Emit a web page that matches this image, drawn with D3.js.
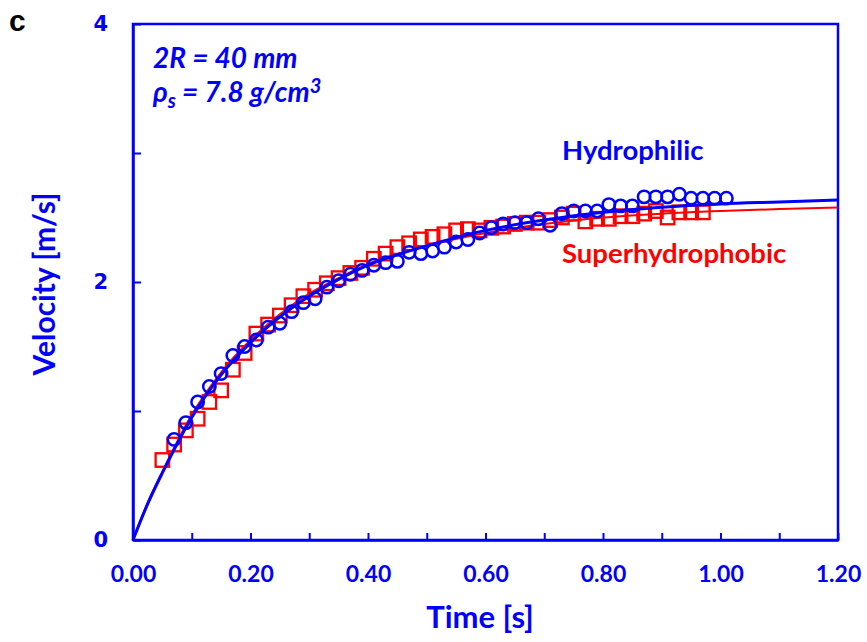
<!DOCTYPE html>
<html>
<head>
<meta charset="utf-8">
<script src="https://cdn.jsdelivr.net/npm/d3@7"></script>
<style>
html,body{margin:0;padding:0;background:#fff;}
svg{display:block;}
</style>
</head>
<body>
<svg id="chart" width="867" height="642"></svg>
<script>
// ---- data ----
const hydroT = [0.07,0.09,0.11,0.13,0.15,0.17,0.19,0.21,0.23,0.25,0.27,0.29,0.31,0.33,0.35,0.37,0.39,0.41,0.43,0.45,0.47,0.49,0.51,0.53,0.55,0.57,0.59,0.61,0.63,0.65,0.67,0.69,0.71,0.73,0.75,0.77,0.79,0.81,0.83,0.85,0.87,0.89,0.91,0.93,0.95,0.97,0.99,1.01];
const hydroV = [0.78,0.91,1.07,1.19,1.29,1.43,1.50,1.55,1.65,1.68,1.77,1.84,1.87,1.96,2.01,2.06,2.09,2.13,2.15,2.16,2.23,2.22,2.24,2.27,2.31,2.33,2.38,2.42,2.45,2.46,2.46,2.49,2.44,2.53,2.55,2.55,2.55,2.60,2.59,2.59,2.66,2.66,2.66,2.68,2.65,2.65,2.65,2.65];

const superT = [0.05,0.07,0.09,0.11,0.13,0.15,0.17,0.19,0.21,0.23,0.25,0.27,0.29,0.31,0.33,0.35,0.37,0.39,0.41,0.43,0.45,0.47,0.49,0.51,0.53,0.55,0.57,0.59,0.61,0.63,0.65,0.67,0.69,0.71,0.73,0.75,0.77,0.79,0.81,0.83,0.85,0.87,0.89,0.91,0.93,0.95,0.97];
const superV = [0.62,0.74,0.85,0.94,1.07,1.16,1.32,1.45,1.60,1.67,1.74,1.82,1.89,1.94,1.99,2.03,2.07,2.11,2.18,2.22,2.27,2.30,2.33,2.35,2.37,2.40,2.41,2.40,2.42,2.43,2.45,2.46,2.46,2.48,2.50,2.53,2.47,2.49,2.49,2.51,2.51,2.53,2.55,2.50,2.54,2.54,2.54];

// fitted curves
const fitT      = [0,0.025,0.05,0.1,0.15,0.2,0.25,0.3,0.35,0.4,0.5,0.6,0.7,0.8,0.9,1.0,1.1,1.2];
const fitHydroV = [0,0.28,0.52,0.95,1.28,1.53,1.73,1.89,2.02,2.13,2.28,2.40,2.48,2.54,2.58,2.605,2.62,2.635];
const fitSuperV = [0,0.29,0.53,0.97,1.30,1.55,1.75,1.91,2.03,2.14,2.28,2.38,2.45,2.50,2.53,2.55,2.565,2.578];

const xTicks = [0,0.1,0.2,0.3,0.4,0.5,0.6,0.7,0.8,0.9,1.0,1.1,1.2];
const yTicks = [0,1,2,3,4];
const xLabelTicks = [0,0.2,0.4,0.6,0.8,1.0,1.2];
const yLabelTicks = [0,2,4];

const BLUE = "#0000ff", RED = "#ff0000";
const TEXTFONT = "Lato, 'Open Sans', sans-serif";

// ---- chart ----
const svg = d3.select("#chart");
const x = d3.scaleLinear().domain([0,1.2]).range([133,838]);
const y = d3.scaleLinear().domain([0,4]).range([540,24]);

// frame
svg.append("rect")
  .attr("x", x(0)).attr("y", y(4))
  .attr("width", x(1.2)-x(0)).attr("height", y(0)-y(4))
  .attr("fill","none").attr("stroke",BLUE).attr("stroke-width",2.5);

// x axis
const gx = svg.append("g").attr("transform",`translate(0,${y(0)})`)
  .call(d3.axisBottom(x).tickValues(xTicks).tickSizeInner(-7).tickSizeOuter(0)
        .tickPadding(26)
        .tickFormat(d => xLabelTicks.some(v=>Math.abs(v-d)<1e-9) ? d3.format(".2f")(d) : ""));
gx.select(".domain").attr("stroke",BLUE).attr("stroke-width",2.5);
gx.selectAll(".tick line").attr("stroke",BLUE).attr("stroke-width",2);
gx.selectAll(".tick text").attr("fill",BLUE)
  .style("font-family",TEXTFONT).style("font-weight","bold").style("font-size","23px");

// y axis
const gy = svg.append("g").attr("transform",`translate(${x(0)},0)`)
  .call(d3.axisLeft(y).tickValues(yTicks).tickSizeInner(-8).tickSizeOuter(0)
        .tickPadding(25)
        .tickFormat(d => yLabelTicks.includes(d) ? String(d) : ""));
gy.select(".domain").attr("stroke",BLUE).attr("stroke-width",2.5);
gy.selectAll(".tick line").attr("stroke",BLUE).attr("stroke-width",2);
gy.selectAll(".tick text").attr("fill",BLUE)
  .style("font-family","'DejaVu Sans', Verdana, sans-serif").style("font-weight","bold").style("font-size","21px");

// axis titles
svg.append("text").attr("x",480).attr("y",628).attr("text-anchor","middle")
  .attr("fill",BLUE).style("font-family",TEXTFONT).style("font-weight","bold").style("font-size","31px")
  .text("Time [s]");
svg.append("text").attr("transform","translate(55,284) rotate(-90)").attr("text-anchor","middle")
  .attr("fill",BLUE).style("font-family",TEXTFONT).style("font-weight","bold").style("font-size","30px")
  .text("Velocity [m/s]");

// panel label
svg.append("text").attr("x",9).attr("y",31).attr("fill","#000")
  .style("font-family","'Liberation Sans', Arial, sans-serif").style("font-weight","bold").style("font-size","30px")
  .text("c");

// annotations
svg.append("text").attr("x",153).attr("y",68).attr("fill",BLUE)
  .style("font-family",TEXTFONT).style("font-weight","bold").style("font-style","italic").style("font-size","28px")
  .text("2R = 40 mm");
const rho = svg.append("text").attr("x",153).attr("y",102).attr("fill",BLUE)
  .style("font-family",TEXTFONT).style("font-weight","bold").style("font-style","italic").style("font-size","28px");
rho.append("tspan").text("ρ");
rho.append("tspan").attr("dy",6).style("font-size","20px").text("s");
rho.append("tspan").attr("dy",-6).text(" = 7.8 g/cm");
rho.append("tspan").attr("dy",-9).style("font-size","20px").text("3");

svg.append("text").attr("x",562).attr("y",160).attr("fill",BLUE)
  .style("font-family",TEXTFONT).style("font-weight","bold").style("font-size","27.5px")
  .text("Hydrophilic");
svg.append("text").attr("x",562).attr("y",263).attr("fill",RED)
  .style("font-family",TEXTFONT).style("font-weight","bold").style("font-size","27.5px")
  .text("Superhydrophobic");

// data
const superData = superT.map((t,i)=>({t, v:superV[i]}));
const hydroData = hydroT.map((t,i)=>({t, v:hydroV[i]}));
const fitH = fitT.map((t,i)=>({t, v:fitHydroV[i]}));
const fitS = fitT.map((t,i)=>({t, v:fitSuperV[i]}));

const line = d3.line().x(d=>x(d.t)).y(d=>y(d.v)).curve(d3.curveMonotoneX);
const S = 13.5;

svg.append("g").selectAll("rect").data(superData).join("rect")
  .attr("x",d=>x(d.t)-S/2).attr("y",d=>y(d.v)-S/2)
  .attr("width",S).attr("height",S)
  .attr("fill","none").attr("stroke",RED).attr("stroke-width",2.3);

svg.append("path").datum(fitS).attr("d",line)
  .attr("fill","none").attr("stroke",RED).attr("stroke-width",2);

svg.append("g").selectAll("circle").data(hydroData).join("circle")
  .attr("cx",d=>x(d.t)).attr("cy",d=>y(d.v)).attr("r",6.2)
  .attr("fill","none").attr("stroke",BLUE).attr("stroke-width",2.5);

svg.append("path").datum(fitH).attr("d",line)
  .attr("fill","none").attr("stroke",BLUE).attr("stroke-width",3);
</script>
</body>
</html>
